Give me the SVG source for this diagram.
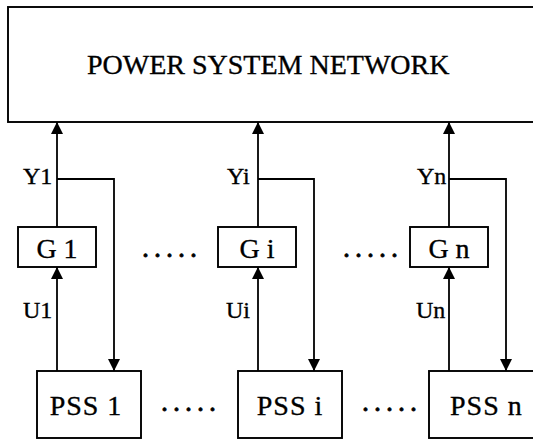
<svg xmlns="http://www.w3.org/2000/svg" width="533" height="441" viewBox="0 0 533 441">
<style>
.box{fill:#fff;stroke:#000;stroke-width:1.9}
.t{font-family:"Liberation Serif","Times New Roman",serif;fill:#000;stroke:#000;stroke-width:0.35}
.big{font-size:28px}
.lbl{font-size:24px}
.ln{fill:none;stroke:#000;stroke-width:1.8}
.dots{font-size:28px;letter-spacing:5px;stroke-width:0.8}
</style>
<defs>
<marker id="ah" viewBox="0 0 12 12" refX="12" refY="6" markerWidth="12" markerHeight="12" markerUnits="userSpaceOnUse" orient="auto">
<path d="M0,0 L12,6 L0,12 Z" fill="#000"/>
</marker>
</defs>
<rect width="533" height="441" fill="#fff"/>
<g id="network">
<rect class="box" x="8" y="7" width="540" height="115"/>
<text class="t big" x="87" y="74">POWER SYSTEM NETWORK</text>
</g>
<g id="g1">
<rect class="box" x="18" y="227" width="78" height="40"/>
<text class="t big" x="57" y="258" text-anchor="middle">G 1</text>
</g>
<g id="gi">
<rect class="box" x="218" y="227" width="78" height="40"/>
<text class="t big" x="257" y="258" text-anchor="middle">G i</text>
</g>
<g id="gn">
<rect class="box" x="410" y="227" width="78" height="40"/>
<text class="t big" x="449" y="258" text-anchor="middle">G n</text>
</g>
<g id="pss1">
<rect class="box" x="37" y="371" width="104" height="67"/>
<text class="t big" x="86" y="415" text-anchor="middle" letter-spacing="1">PSS 1</text>
</g>
<g id="pssi">
<rect class="box" x="238" y="371" width="104" height="67"/>
<text class="t big" x="290" y="415" text-anchor="middle" letter-spacing="1">PSS i</text>
</g>
<g id="pssn">
<rect class="box" x="429" y="371" width="120" height="67"/>
<text class="t big" x="450" y="415" letter-spacing="1">PSS n</text>
</g>
<g id="ellipses">
<text class="t dots" x="142" y="257">.....</text>
<text class="t dots" x="343" y="257">.....</text>
<text class="t dots" x="161" y="411">.....</text>
<text class="t dots" x="362" y="411">.....</text>
</g>
<g id="connectors">
<line class="ln" x1="57" y1="227" x2="57" y2="122" marker-end="url(#ah)"/>
<line class="ln" x1="258" y1="227" x2="258" y2="122" marker-end="url(#ah)"/>
<line class="ln" x1="449" y1="227" x2="449" y2="122" marker-end="url(#ah)"/>
<line class="ln" x1="57" y1="371" x2="57" y2="267" marker-end="url(#ah)"/>
<line class="ln" x1="258" y1="371" x2="258" y2="267" marker-end="url(#ah)"/>
<line class="ln" x1="449" y1="371" x2="449" y2="267" marker-end="url(#ah)"/>
<polyline class="ln" points="57,179 114,179 114,371" marker-end="url(#ah)"/>
<polyline class="ln" points="258,179 314,179 314,371" marker-end="url(#ah)"/>
<polyline class="ln" points="449,179 506,179 506,371" marker-end="url(#ah)"/>
</g>
<g id="labels">
<text class="t lbl" x="23" y="184">Y1</text>
<text class="t lbl" x="227" y="184">Yi</text>
<text class="t lbl" x="417" y="184">Yn</text>
<text class="t lbl" x="23" y="318">U1</text>
<text class="t lbl" x="226" y="318">Ui</text>
<text class="t lbl" x="416" y="318">Un</text>
</g>
</svg>
